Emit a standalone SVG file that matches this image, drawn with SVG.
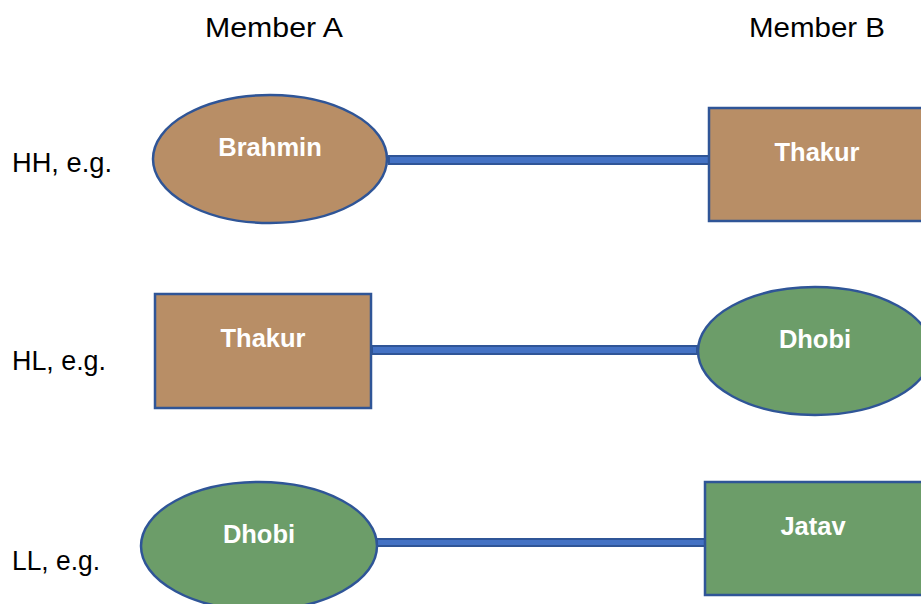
<svg xmlns="http://www.w3.org/2000/svg" width="921" height="604" viewBox="0 0 921 604">
<style>
.hdr{font-family:"Liberation Sans",Arial,sans-serif;font-size:27px;fill:#000}
.lbl{font-family:"Liberation Sans",Arial,sans-serif;font-size:25.5px;font-weight:bold;fill:#fff;text-anchor:middle}
.brown{fill:#B88E66;stroke:#2F5597;stroke-width:2.5}
.green{fill:#6C9D69;stroke:#2F5597;stroke-width:2.5}
.conn{fill:#4472C4;stroke:#2F5597;stroke-width:2}
</style>
<rect width="921" height="604" fill="#fff"/>
<text class="hdr" x="274" y="37" text-anchor="middle" textLength="138" lengthAdjust="spacingAndGlyphs">Member A</text>
<text class="hdr" x="817" y="37" text-anchor="middle" textLength="136" lengthAdjust="spacingAndGlyphs">Member B</text>
<text class="hdr" x="12" y="172" textLength="100" lengthAdjust="spacingAndGlyphs">HH, e.g.</text>
<text class="hdr" x="12" y="370" textLength="94" lengthAdjust="spacingAndGlyphs">HL, e.g.</text>
<text class="hdr" x="12" y="570" textLength="88" lengthAdjust="spacingAndGlyphs">LL, e.g.</text>
<g id="connectors">
<rect class="conn" x="389" y="156" width="321" height="8"/>
<rect class="conn" x="372" y="346" width="325" height="8"/>
<rect class="conn" x="377" y="539" width="328" height="7"/>
</g>
<g id="brahmin"><ellipse class="brown" cx="270" cy="159" rx="117" ry="64"/><text class="lbl" x="270" y="156">Brahmin</text></g>
<g id="thakur-b"><rect class="brown" x="709" y="108" width="220" height="113"/><text class="lbl" x="817" y="161">Thakur</text></g>
<g id="thakur-a"><rect class="brown" x="155" y="294" width="216" height="114"/><text class="lbl" x="263" y="347">Thakur</text></g>
<g id="dhobi-b"><ellipse class="green" cx="815" cy="351" rx="117" ry="64"/><text class="lbl" x="815" y="348">Dhobi</text></g>
<g id="dhobi-a"><ellipse class="green" cx="259" cy="546" rx="118" ry="64"/><text class="lbl" x="259" y="543">Dhobi</text></g>
<g id="jatav"><rect class="green" x="705" y="482" width="222" height="113"/><text class="lbl" x="813" y="535">Jatav</text></g>
</svg>
